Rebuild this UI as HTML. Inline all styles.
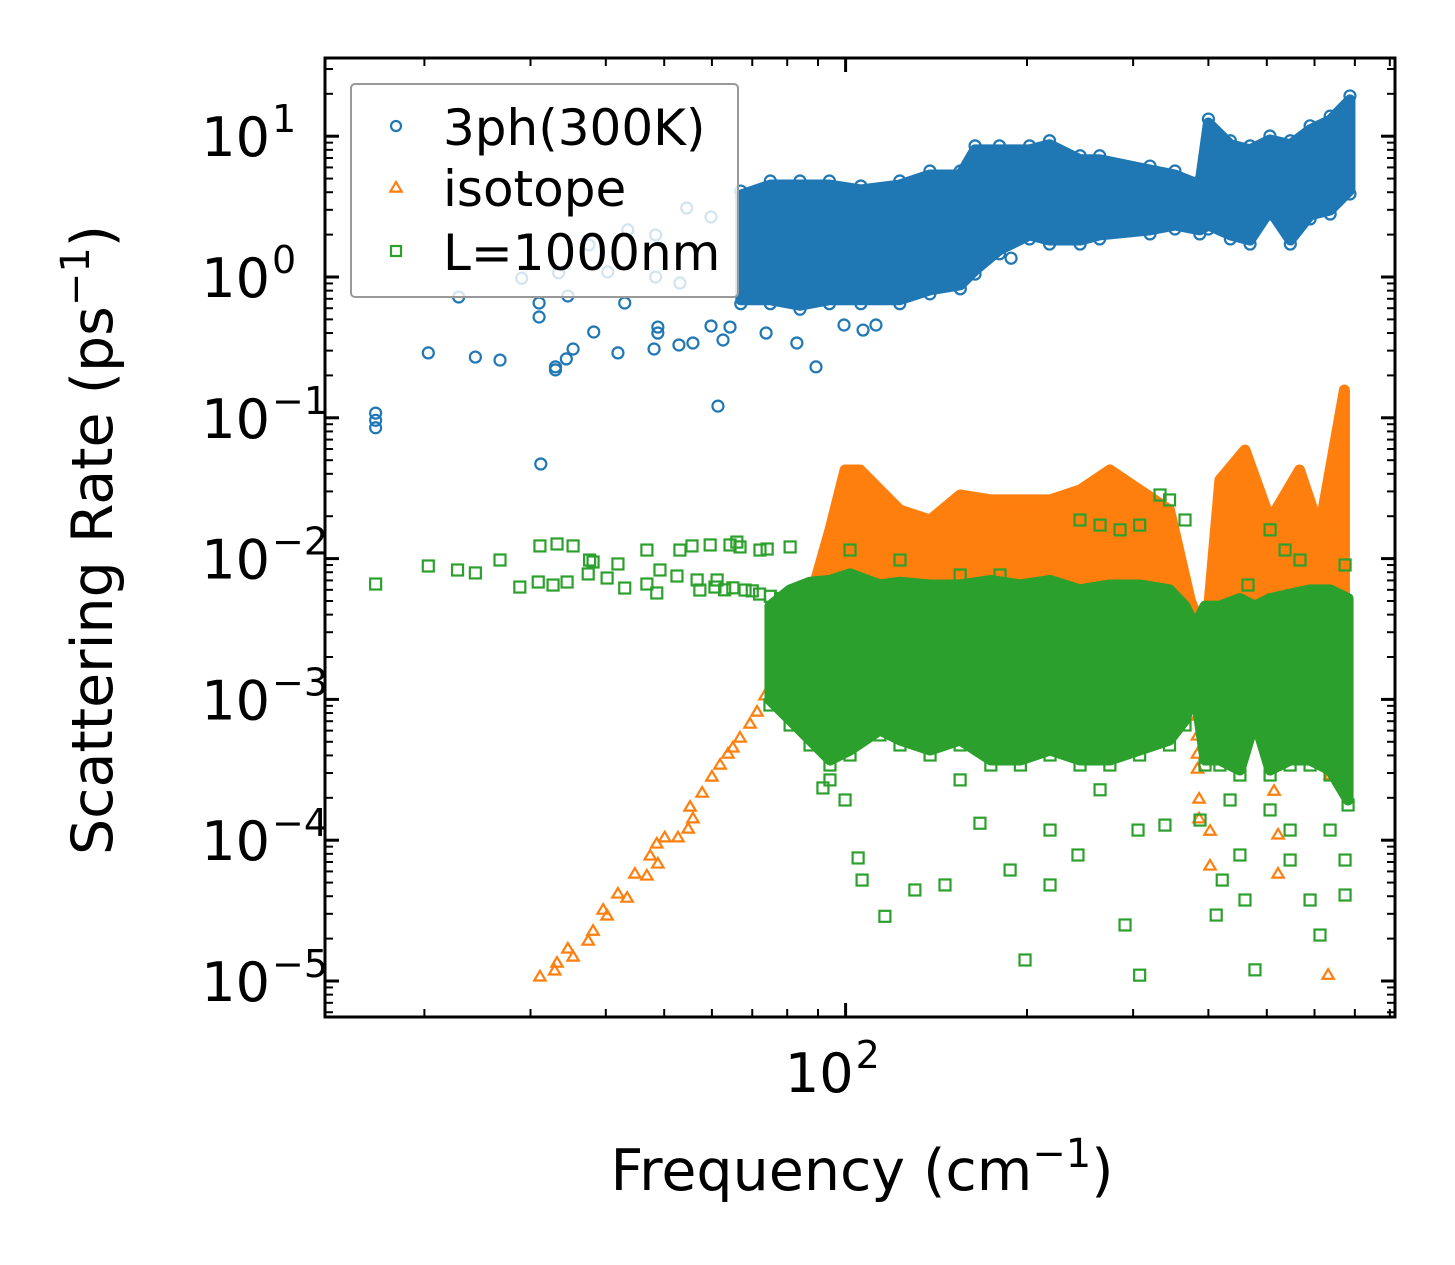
<!DOCTYPE html>
<html><head><meta charset="utf-8">
<style>
html,body{margin:0;padding:0;background:#fff;}
body{position:relative;}
svg{display:block;font-family:"DejaVu Sans","Liberation Sans",sans-serif;}
</style></head>
<body>
<svg id="chart" width="1455" height="1265" viewBox="0 0 1455 1265" xmlns="http://www.w3.org/2000/svg">
<rect width="1455" height="1265" fill="#fff"/>
<defs><clipPath id="pc"><rect x="325" y="58" width="1070" height="959"/></clipPath></defs>
<g id="plot" clip-path="url(#pc)"></g>
<g id="axes"></g>
<g id="legend"></g>
</svg>
<script>
// ---- data (frequency cm^-1, rate ps^-1) ----
const blueBandF  = [67,75,84,94,106,123,138,155,164,180,202,218,245,264,320,352,387,400,435,469,506,547,590,637,687];
const blueBandHi = [3.82,4.5,4.5,4.5,4.15,4.5,5.3,5.3,8.0,8.0,8.0,8.7,6.8,6.8,5.75,5.3,4.5,12.4,8.7,8.0,9.4,8.7,11.1,13.0,18.1];
const blueBandLo = [0.69,0.69,0.63,0.69,0.69,0.69,0.81,0.88,1.12,1.56,1.99,1.83,1.83,1.99,2.16,2.34,2.16,2.34,1.99,1.83,2.99,1.83,2.76,2.99,4.15];
const blueF = [16.6,16.6,16.6,20.3,22.8,24.3,26.7,29.0,31.0,31.0,31.2,33.0,33.0,34.4,35.3,34.6,38.2,41.9,43.0,48.1,48.8,48.8,52.9,55.8,61.4,59.8,64.3,62.6,54.5,59.8,43.5,48.4,37.5,40.3,33.4,53.1,48.4,83.0,89.3,188.2,73.8,99.4,112.3,106.9];
const blueR = [0.108,0.096,0.085,0.289,0.721,0.270,0.257,0.98,0.654,0.52,0.047,0.219,0.23,0.262,0.308,0.733,0.407,0.289,0.654,0.308,0.441,0.40,0.329,0.34,0.121,0.449,0.441,0.357,3.09,2.67,2.16,1.99,1.69,1.085,1.07,0.906,1.0,0.34,0.23,1.36,0.40,0.456,0.456,0.42];

const isoBandF  = [80.9,87.3,94.2,99.8,105.7,114.0,123.1,138.1,154.9,174.2,195.0,218.4,244.9,274.5,307.6,344.8,373.1,396.1,418.0,460.0,506.3,566.6,611.6,672.7];
const isoBandHi = [0.00137,0.00508,0.0160,0.0426,0.0426,0.0307,0.0221,0.0188,0.0283,0.0261,0.0261,0.0261,0.0307,0.0426,0.0307,0.0221,0.00508,0.00264,0.0362,0.059,0.0188,0.0426,0.0160,0.1575];
const isoBandLo = [0.00099,0.00190,0.00366,0.00508,0.00598,0.00705,0.00705,0.00508,0.00598,0.00508,0.00432,0.00508,0.00508,0.00508,0.00432,0.00366,0.00099,0.00099,0.00137,0.00099,0.00099,0.00224,0.00224,0.00137];
const isoF = [31.1,32.9,33.2,34.6,35.3,37.4,38.1,39.6,40.2,41.9,43.4,44.7,46.8,47.4,48.8,48.6,50.1,52.7,54.8,55.8,55.2,57.8,60.0,61.9,63.8,65.0,66.8,69.4,71.3,73.5,75.8,77.8,383.7,383.7,383.7,383.7,398.8,386,386,402.5,402.5,522,522,514,636.8,632,636.8,660];
const isoR = [1.07e-5,1.18e-5,1.34e-5,1.69e-5,1.48e-5,1.92e-5,2.26e-5,3.19e-5,2.90e-5,4.15e-5,3.88e-5,5.75e-5,5.57e-5,7.73e-5,6.78e-5,9.40e-5,1.04e-4,1.04e-4,1.20e-4,1.42e-4,1.72e-4,2.16e-4,2.81e-4,3.42e-4,4.09e-4,4.52e-4,5.32e-4,6.68e-4,8.13e-4,1.06e-3,1.37e-3,1.64e-3,7.62e-4,5.50e-4,4.09e-4,3.20e-4,4.03e-4,1.96e-4,1.42e-4,1.16e-4,6.56e-5,1.09e-4,5.75e-5,2.23e-4,2.90e-4,1.10e-5,6.26e-4,1.08e-2];

const bdyBandF  = [74.9,80.9,87.3,94.2,101.7,114.0,123.1,138.1,154.9,174.2,195.0,218.4,244.9,274.5,307.6,344.8,365.8,380.0,394.9,418.0,451.2,477.9,506.3,546.6,589.9,636.8,682.1];
const bdyBandHi = [4.6e-3,6.0e-3,6.8e-3,7.0e-3,7.8e-3,6.5e-3,6.8e-3,6.5e-3,6.5e-3,7.0e-3,6.5e-3,7.0e-3,6.0e-3,6.5e-3,6.5e-3,6.0e-3,4.6e-3,3.3e-3,4.6e-3,4.6e-3,5.2e-3,4.6e-3,5.2e-3,5.6e-3,6.0e-3,6.0e-3,5.2e-3];
const bdyBandLo = [9.9e-4,7.14e-4,5.15e-4,3.71e-4,4.37e-4,6.07e-4,5.15e-4,4.37e-4,5.15e-4,3.71e-4,3.71e-4,4.37e-4,3.71e-4,3.71e-4,4.37e-4,5.15e-4,7.14e-4,1.17e-3,3.71e-4,3.71e-4,3.15e-4,7.14e-4,3.15e-4,3.71e-4,3.71e-4,3.15e-4,1.93e-4];
const bdyF = [16.6,20.3,22.7,24.3,26.7,28.8,31.1,30.9,32.7,33.2,34.5,35.3,37.6,37.4,38.1,40.2,41.9,43.0,46.8,46.8,48.6,49.2,52.5,53.1,55.6,56.7,57.3,59.6,61.2,64.3,66.0,66.8,68.1,72.1,74.1,80.9,60.7,63,65,70,72,75,78,
  91.7,99.8,104.9,106.5,116.2,130.3,146.2,167.1,198.5,218.4,243.0,290.9,305.7,338.8,412.1,421.7,451.2,460.0,477.9,506.3,546.6,589.9,612.7,674.3,674.3,307.6,187.5,84.0,94.2,154.9,264.4,218.4,387.4,434.5,546.6,636.8,
  332.5,344.8,307.6,244.9,264.4,285.4,365.8,465.3,506.3,536.2,567.6,674.3,101.7,123.1,180.4,154.9];
const bdyR = [6.60e-3,8.86e-3,8.30e-3,7.91e-3,9.77e-3,6.28e-3,0.0123,6.82e-3,6.49e-3,0.0127,6.82e-3,0.0123,9.77e-3,7.78e-3,9.46e-3,7.28e-3,9.16e-3,6.18e-3,0.0115,6.60e-3,5.70e-3,8.30e-3,7.52e-3,0.0115,0.0123,7.05e-3,5.98e-3,0.0125,7.05e-3,0.0125,0.0131,0.0121,5.98e-3,0.0115,0.0117,0.0121,6.28e-3,6.0e-3,6.2e-3,5.9e-3,5.6e-3,5.4e-3,5.2e-3,
  2.35e-4,1.93e-4,7.48e-5,5.21e-5,2.88e-5,4.43e-5,4.81e-5,1.32e-4,1.41e-5,4.81e-5,7.85e-5,2.50e-5,1.18e-4,1.28e-4,2.94e-5,5.21e-5,7.85e-5,3.76e-5,1.20e-5,1.64e-4,7.23e-5,3.76e-5,2.12e-5,4.08e-5,7.23e-5,1.10e-5,6.14e-5,6.58e-4,2.68e-4,2.68e-4,2.28e-4,1.18e-4,1.39e-4,1.93e-4,1.18e-4,1.18e-4,
  0.0283,0.0261,0.0173,0.0188,0.0173,0.016,0.0188,6.49e-3,0.016,0.0115,9.77e-3,9.01e-3,0.0115,9.77e-3,7.65e-3,7.65e-3];

const yTickExp = [1,0,-1,-2,-3,-4,-5];
const xTickExp = [2];

// ---- scales ----
const X0=845.6, XD=602.6, Y0=277, YD=140.8;
function xs(f){return X0+XD*Math.log10(f/100);}
function ys(v){return Y0-YD*Math.log10(v);}
const NS='http://www.w3.org/2000/svg';
function mk(tag,attrs,parent){const e=document.createElementNS(NS,tag);for(const k in attrs)e.setAttribute(k,attrs[k]);parent.appendChild(e);return e;}
const plot=document.getElementById('plot'), axes=document.getElementById('axes');
const C1='#1f77b4',C2='#ff7f0e',C3='#2ca02c';

function circle(cx,cy,parent){return mk('circle',{cx:cx,cy:cy,r:5.5,fill:'none',stroke:C1,'stroke-width':2.2},parent);}
function tri(cx,cy,parent){const s=6;return mk('polygon',{points:`${cx},${cy-s} ${cx-s*0.95},${cy+s*0.6} ${cx+s*0.95},${cy+s*0.6}`,fill:'none',stroke:C2,'stroke-width':2.2},parent);}
function sq(cx,cy,parent){return mk('rect',{x:cx-5.5,y:cy-5.5,width:11,height:11,fill:'none',stroke:C3,'stroke-width':2.2},parent);}

function band(F,Hi,Lo,col,name){
  let pts=[];
  for(let i=0;i<F.length;i++)pts.push(xs(F[i])+','+ys(Hi[i]));
  for(let i=F.length-1;i>=0;i--)pts.push(xs(F[i])+','+ys(Lo[i]));
  const p=mk('polygon',{points:pts.join(' '),fill:col,stroke:col,'stroke-width':11,'stroke-linejoin':'round'},plot);
  
  
}

const gB=mk('g',{},plot);


band(blueBandF,blueBandHi,blueBandLo,C1,'band-3ph');
for(let i=0;i<blueF.length;i++){const e=circle(xs(blueF[i]),ys(blueR[i]),gB);

}
for(let i=0;i<blueBandF.length;i++){const a=circle(xs(blueBandF[i]),ys(blueBandHi[i])-4,gB);


const b=circle(xs(blueBandF[i]),ys(blueBandLo[i])+4,gB);

}

const gI=mk('g',{},plot);


band(isoBandF,isoBandHi,isoBandLo,C2,'band-isotope');
for(let i=0;i<isoF.length;i++){const e=tri(xs(isoF[i]),ys(isoR[i]),gI);

}

const gG=mk('g',{},plot);


band(bdyBandF,bdyBandHi,bdyBandLo,C3,'band-boundary');
for(let i=0;i<bdyF.length;i++){const e=sq(xs(bdyF[i]),ys(bdyR[i]),gG);

}
for(let i=0;i<bdyBandF.length;i++){const a=sq(xs(bdyBandF[i]),ys(bdyBandLo[i])+5,gG);

}

// ---- axes ----
const L=325,R=1395,T=58,B=1017;
const frame=mk('rect',{x:L,y:T,width:R-L,height:B-T,fill:'none',stroke:'#000','stroke-width':3},axes);


function tick(x1,y1,x2,y2,w){mk('line',{x1:x1,y1:y1,x2:x2,y2:y2,stroke:'#000','stroke-width':w},axes);}
for(let e=-6;e<=2;e++){
  for(let m=1;m<10;m++){
    const y=ys(m*Math.pow(10,e)); if(y<T||y>B)continue;
    const len=m===1?14:8, w=m===1?3:2;
    tick(L,y,L+len,y,w); tick(R,y,R-len,y,w);
  }
}
yTickExp.forEach(e=>{
  const y=ys(Math.pow(10,e));
  const t=mk('text',{x:270,y:y+20,'font-size':54,'text-anchor':'end',fill:'#000'},axes);
  t.textContent='10';
  
  
  const s=mk('text',{x:272,y:y-4,'font-size':38,'text-anchor':'start',fill:'#000'},axes);
  s.textContent=e<0?('\u2212'+(-e)):String(e);
  
  
});
for(let e=1;e<=3;e++){
  for(let m=1;m<10;m++){
    const x=xs(m*Math.pow(10,e)); if(x<L||x>R)continue;
    const len=m===1?14:8, w=m===1?3:2;
    tick(x,B,x,B-len,w); tick(x,T,x,T+len,w);
  }
}
xTickExp.forEach(e=>{
  const x=xs(Math.pow(10,e));
  const t=mk('text',{x:x+8,y:1092,'font-size':54,'text-anchor':'end',fill:'#000'},axes);
  t.textContent='10';
  
  
  const s=mk('text',{x:x+10,y:1068,'font-size':38,fill:'#000'},axes);
  s.textContent=String(e);
  
  
});
</script>
<svg style="position:absolute;left:0;top:0" width="1455" height="1265" xmlns="http://www.w3.org/2000/svg">
<text x="862" y="1190" font-size="57" text-anchor="middle" font-family="DejaVu Sans, Liberation Sans, sans-serif">Frequency (cm<tspan font-size="40" dy="-23">−1</tspan><tspan dy="23">)</tspan></text>
<text transform="translate(112,540) rotate(-90)" font-size="57" text-anchor="middle" font-family="DejaVu Sans, Liberation Sans, sans-serif">Scattering Rate (ps<tspan font-size="40" dy="-23">−1</tspan><tspan dy="23">)</tspan></text>
<g>
<rect x="351" y="84" width="387" height="213" rx="4" fill="rgba(255,255,255,0.8)" stroke="#999" stroke-width="2"/>
<g><circle cx="396" cy="126" r="5" fill="none" stroke="#1f77b4" stroke-width="2.2"/><text x="443" y="145" font-size="50" font-family="DejaVu Sans, Liberation Sans, sans-serif">3ph(300K)</text></g>
<g><polygon points="396,182 390.3,191.6 401.7,191.6" fill="none" stroke="#ff7f0e" stroke-width="2.2"/><text x="443" y="206" font-size="50" font-family="DejaVu Sans, Liberation Sans, sans-serif">isotope</text></g>
<g><rect x="391" y="246" width="10" height="10" fill="none" stroke="#2ca02c" stroke-width="2.2"/><text x="443" y="270" font-size="50" font-family="DejaVu Sans, Liberation Sans, sans-serif">L=1000nm</text></g>
</g>
</svg>
</body></html>
